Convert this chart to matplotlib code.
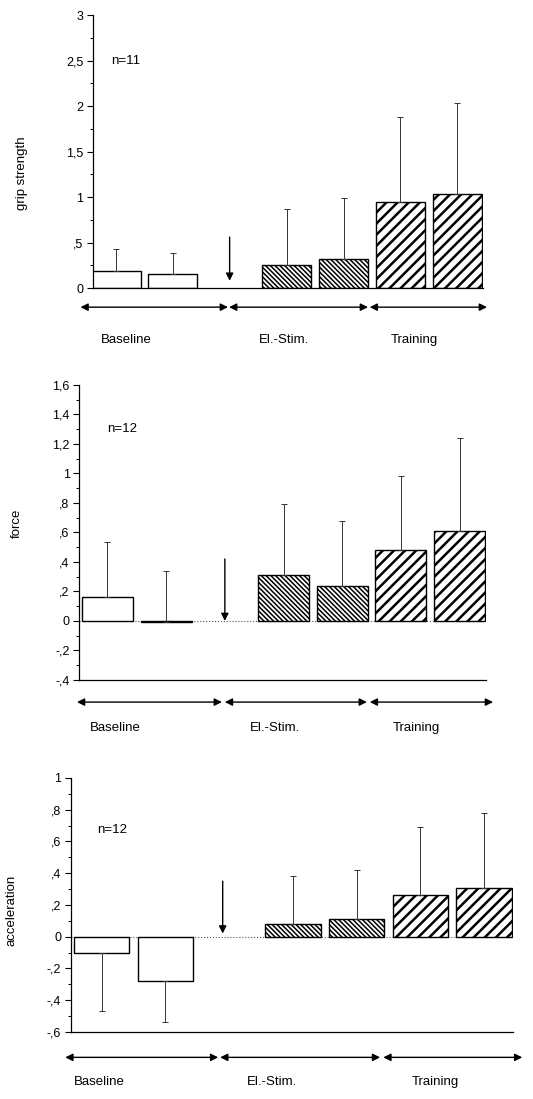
import numpy as np
import matplotlib
import matplotlib.pyplot as plt
from matplotlib.ticker import FixedLocator, MultipleLocator

matplotlib.use('Agg')
plt.rcParams['font.family'] = ['Liberation Sans', 'DejaVu Sans']

# bar positions (slot 2 is the gap with the arrow)
pos = [0, 1, 3, 4, 5, 6]
phases = ['Baseline', 'El.-Stim.', 'Training']

grip_mean = [0.19, 0.15, 0.25, 0.32, 0.95, 1.03]
grip_err_end = [0.43, 0.38, 0.87, 0.99, 1.88, 2.03]
grip_ticks = [0, 0.5, 1, 1.5, 2, 2.5, 3]
grip_ticklabels = ['0', ',5', '1', '1,5', '2', '2,5', '3']

force_mean = [0.165, -0.01, 0.31, 0.24, 0.48, 0.61]
force_err_end = [0.535, 0.34, 0.79, 0.68, 0.98, 1.24]
force_ticks = [-0.4, -0.2, 0, 0.2, 0.4, 0.6, 0.8, 1.0, 1.2, 1.4, 1.6]
force_ticklabels = ['-,4', '-,2', '0', ',2', ',4', ',6', ',8', '1', '1,2', '1,4', '1,6']

acc_mean = [-0.10, -0.28, 0.08, 0.11, 0.26, 0.31]
acc_err_end = [-0.47, -0.54, 0.38, 0.42, 0.69, 0.78]
acc_ticks = [-0.6, -0.4, -0.2, 0, 0.2, 0.4, 0.6, 0.8, 1.0]
acc_ticklabels = ['-,6', '-,4', '-,2', '0', ',2', ',4', ',6', ',8', '1']

panels = [
    dict(mean=grip_mean, end=grip_err_end, ticks=grip_ticks, labels=grip_ticklabels,
         ylim=(0, 3), minor=0.25, ylabel='grip strength', n='n=11',
         rect=[0.1745, 0.7379, 0.7317, 0.2484], xlim=(-0.4, 6.45),
         ntext=(-0.08, 2.5), arrow=(2.0, 0.56, 0.08), ylab=(-0.167, 0.42),
         harrow=-0.07, span=[(-0.62, 1.97), (1.99, 4.43), (4.46, 6.52)],
         txt_y=-0.19, txt_x=[0.18, 2.95, 5.24]),
    dict(mean=force_mean, end=force_err_end, ticks=force_ticks, labels=force_ticklabels,
         ylim=(-0.4, 1.6), minor=0.1, ylabel='force', n='n=12',
         rect=[0.1488, 0.3813, 0.763, 0.2684], xlim=(-0.48, 6.45),
         ntext=(0.0, 1.3), arrow=(2.0, 0.42, 0.0), ylab=(-0.14, 0.53),
         harrow=-0.075, span=[(-0.52, 1.95), (2.0, 4.42), (4.47, 6.57)],
         txt_y=-0.163, txt_x=[0.14, 2.85, 5.27]),
    dict(mean=acc_mean, end=acc_err_end, ticks=acc_ticks, labels=acc_ticklabels,
         ylim=(-0.6, 1.0), minor=0.1, ylabel='acceleration', n='n=12',
         rect=[0.1332, 0.061, 0.8287, 0.2311], xlim=(-0.48, 6.45),
         ntext=(-0.07, 0.67), arrow=(1.9, 0.35, 0.02), ylab=(-0.12, 0.48),
         harrow=-0.1, span=[(-0.57, 1.83), (1.86, 4.37), (4.42, 6.6)],
         txt_y=-0.197, txt_x=[-0.04, 2.67, 5.23]),
]

hatches = [None, None, '\\' * 7, '\\' * 7, '///', '///']
hatch_lw = [1, 1, 1.1, 1.1, 1.8, 1.8]

fig = plt.figure(figsize=(5.33, 10.99), dpi=100)

for p in panels:
    ax = fig.add_axes(p['rect'])
    mean = np.array(p['mean'])
    end = np.array(p['end'])

    if p['ylim'][0] < 0:
        ax.axhline(0, color='#555555', lw=0.8, ls=':', zorder=1)

    for i in range(6):
        b = ax.bar(pos[i], mean[i], width=0.87, color='white', edgecolor='black',
                   linewidth=1.0, hatch=hatches[i], zorder=2)
        if hatches[i] and hasattr(b[0], 'set_hatch_linewidth'):
            b[0].set_hatch_linewidth(hatch_lw[i])

    # one-sided error bars
    up = np.clip(end - mean, 0, None)
    down = np.clip(mean - end, 0, None)
    ax.errorbar(pos, mean, yerr=[down, up], fmt='none', ecolor='#333333',
                elinewidth=0.7, capsize=2.5, capthick=0.7, zorder=3)

    ax.set_xlim(*p['xlim'])
    ax.set_ylim(*p['ylim'])
    ax.set_xticks([])
    ax.yaxis.set_major_locator(FixedLocator(p['ticks']))
    ax.set_yticklabels(p['labels'], fontsize=9)
    ax.yaxis.set_minor_locator(MultipleLocator(p['minor']))
    ax.tick_params(axis='y', which='major', length=4, width=0.8, pad=3)
    ax.tick_params(axis='y', which='minor', length=2.5, width=0.7)
    for s in ['top', 'right']:
        ax.spines[s].set_visible(False)
    ax.spines['left'].set_linewidth(0.9)
    ax.spines['bottom'].set_linewidth(0.9)
    ax.set_ylabel(p['ylabel'], fontsize=9.5)
    ax.yaxis.set_label_coords(*p['ylab'])

    ax.text(p['ntext'][0], p['ntext'][1], p['n'], fontsize=9.5, va='center', ha='left')

    ax_x, y_top, y_tip = p['arrow']
    ax.annotate('', xy=(ax_x, y_tip), xytext=(ax_x, y_top),
                arrowprops=dict(arrowstyle='-|>', color='black', lw=1.0,
                                mutation_scale=11, shrinkA=0, shrinkB=0))

    tr = ax.get_xaxis_transform()
    for (x0, x1), name, tx in zip(p['span'], phases, p['txt_x']):
        ax.annotate('', xy=(x1, p['harrow']), xytext=(x0, p['harrow']),
                    xycoords=tr, textcoords=tr, annotation_clip=False,
                    arrowprops=dict(arrowstyle='<|-|>', color='black', lw=1.0,
                                    mutation_scale=11, shrinkA=0, shrinkB=0))
        ax.text(tx, p['txt_y'], name, transform=tr, fontsize=9.5, ha='center',
                va='center', clip_on=False)

fig.savefig('out.png', dpi=100)
